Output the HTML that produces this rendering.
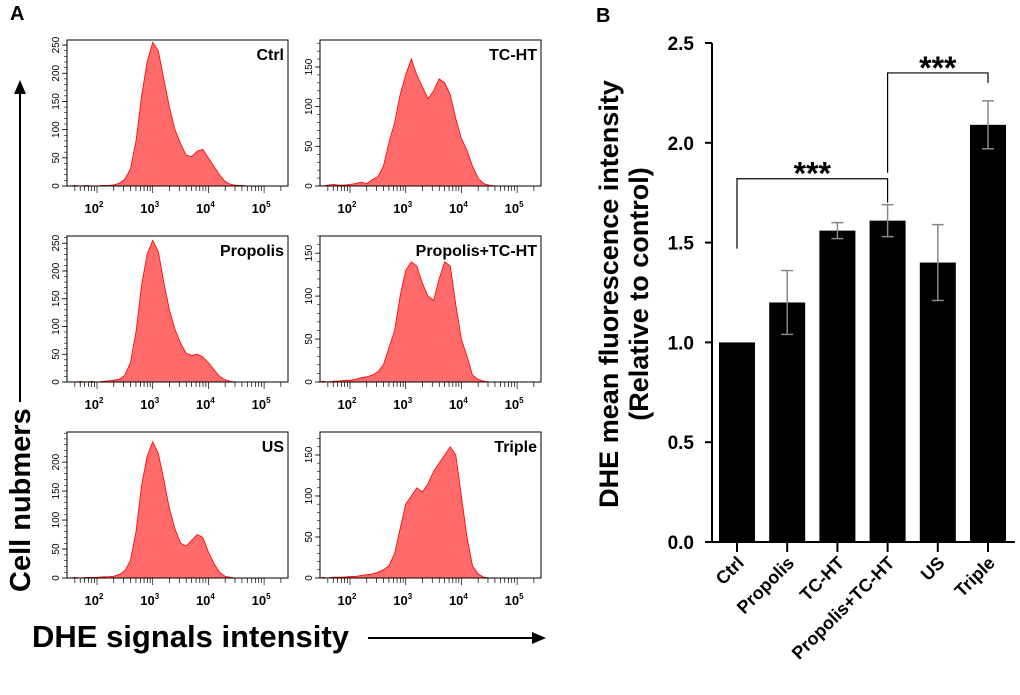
<!DOCTYPE html>
<html><head><meta charset="utf-8"><style>
body{margin:0;background:#fff;}
svg{display:block;font-family:"Liberation Sans",Arial,sans-serif;}
</style></head><body>
<svg id="fig" width="1020" height="695" viewBox="0 0 1020 695" xmlns="http://www.w3.org/2000/svg">
<text x="10" y="20" font-size="20" font-weight="bold">A</text>
<text x="596" y="22" font-size="20" font-weight="bold">B</text>
<g>
<line x1="20" y1="402" x2="20" y2="92" stroke="#000" stroke-width="2"/>
<polygon points="14,94 26,94 20,80" fill="#000"/>
</g>
<text transform="translate(30,592) rotate(-90)" font-size="29" font-weight="bold">Cell nubmers</text>
<text x="32" y="647" font-size="31" font-weight="bold">DHE signals intensity</text>
<g>
<line x1="368" y1="638" x2="534" y2="638" stroke="#000" stroke-width="2"/>
<polygon points="532,632 532,644 546,638" fill="#000"/>
</g>
<g id="hists"></g>
<g id="bars"></g>
</svg>
<script>
// Histogram data: counts at log10 bins from 1.5 to 5.4 step 0.1
const binStart = 1.5, binStep = 0.1;
const histNames = ["Ctrl","TC-HT","Propolis","Propolis+TC-HT","US","Triple"];
const histMax = [259,184,263,170,252,178];
const histTicks = [[0,50,100,150,200,250],[0,50,100,150],[0,50,100,150,200,250],[0,50,100,150],[0,50,100,150,200],[0,50,100,150]];
const ctrlCounts = [0,1,0,1,0,0,1,1,2,5,12,30,80,160,220,255,240,190,140,100,75,55,52,62,65,50,35,20,8,3,1,1,0,0,0,0,0,0,0,0];
const tchtCounts = [0,1,2,1,1,2,3,5,3,8,12,25,55,80,115,140,160,140,125,110,120,135,130,115,85,60,45,25,10,3,1,0,0,0,0,0,0,0,0,0];
const propolisCounts = [0,0,1,0,1,0,1,2,3,5,12,35,90,175,230,255,235,180,130,95,70,52,48,50,45,35,22,10,4,1,0,0,0,0,0,0,0,0,0,0];
const ptCounts = [1,0,1,1,2,2,3,5,6,8,12,20,40,60,100,130,140,135,115,100,95,120,140,135,90,50,30,8,3,1,0,0,0,0,0,0,0,0,0,0];
const usCounts = [0,1,0,1,1,1,2,2,3,6,12,30,80,160,210,235,215,170,120,85,60,55,65,75,70,45,25,10,3,1,0,0,0,0,0,0,0,0,0,0];
const tripleCounts = [1,0,1,1,1,2,2,3,4,5,7,10,15,30,60,90,100,110,105,115,130,140,150,160,150,100,50,15,5,1,0,0,0,0,0,0,0,0,0,0];
const histSeries = [ctrlCounts,tchtCounts,propolisCounts,ptCounts,usCounts,tripleCounts];

// Bar chart data
const categories = ["Ctrl","Propolis","TC-HT","Propolis+TC-HT","US","Triple"];
const means = [1.0,1.2,1.56,1.61,1.40,2.09];
const errors = [0,0.16,0.04,0.08,0.19,0.12];
const yTickLabels = ["0.0","0.5","1.0","1.5","2.0","2.5"];
const yTickValues = [0,0.5,1.0,1.5,2.0,2.5];

const NS="http://www.w3.org/2000/svg";
function mk(tag,attrs,parent){const e=document.createElementNS(NS,tag);for(const k in attrs)e.setAttribute(k,attrs[k]);parent.appendChild(e);return e;}

const hg=document.getElementById('hists');
const colX=[67,320], rowTop=[40,236,432], H=146, W=221;
histNames.forEach((name,i)=>{
  const left=colX[i%2], top=rowTop[Math.floor(i/2)], base=top+H;
  const g=mk('g',{},hg);
  
  
  const xs=v=>left+30+(v-2)*55.7;
  const ys=c=>base-c/histMax[i]*H;
  const data=histSeries[i];
  let d='M'+xs(binStart)+','+base;
  data.forEach((c,j)=>{d+=' L'+xs(binStart+j*binStep).toFixed(1)+','+ys(c).toFixed(1);});
  d+=' L'+xs(binStart+(data.length-1)*binStep)+','+base+' Z';
  const p=mk('path',{d:d,fill:'#ff6a6a',stroke:'#f00','stroke-width':0.8},g);
  
  
  const fr=mk('rect',{x:left,y:top,width:W,height:H,fill:'none',stroke:'#000','stroke-width':1},g);
  
  
  for(let c=0;c<=histMax[i];c+=10){mk('line',{x1:left-3,x2:left,y1:ys(c),y2:ys(c),stroke:'#000','stroke-width':0.6},g);}
  histTicks[i].forEach(c=>{
    mk('line',{x1:left-5,x2:left,y1:ys(c),y2:ys(c),stroke:'#000','stroke-width':0.8},g);
    const t=mk('text',{transform:`translate(${left-8},${ys(c)}) rotate(-90)`,'font-size':10,'text-anchor':'middle'},g);
    t.textContent=c;
    
    
  });
  for(let dec=1;dec<=5;dec++){for(let m=1;m<10;m++){const v=dec+Math.log10(m);const x=xs(v);if(x<left+2||x>left+W-2)continue;
    mk('line',{x1:x,x2:x,y1:base,y2:base+(m===1?7:5),stroke:'#000','stroke-width':0.7},g);}}
  [2,3,4,5].forEach(e=>{
    const t=mk('text',{x:xs(e)-3,y:base+27,'font-size':13,'font-weight':'bold','text-anchor':'middle'},g);
    t.innerHTML='10<tspan font-size="8" dy="-6">'+e+'</tspan>';
    
    
  });
  const lab=mk('text',{x:left+W-4,y:top+20,'font-size':16,'font-weight':'bold','text-anchor':'end'},g);
  lab.textContent=name;
  
  
});

// Bar chart
const bg=document.getElementById('bars');
const y0=542, ppu=199.6, axX=712;
const yb=v=>y0-v*ppu;
const xb=i=>737+i*50.2;
const yl=mk('line',{x1:axX,x2:axX,y1:yb(2.5),y2:y0,stroke:'#000','stroke-width':2},bg);


const xl=mk('line',{x1:707,x2:1015,y1:y0,y2:y0,stroke:'#000','stroke-width':2},bg);


yTickValues.forEach((v,i)=>{
  mk('line',{x1:axX-7,x2:axX,y1:yb(v),y2:yb(v),stroke:'#000','stroke-width':2},bg);
  const t=mk('text',{x:axX-18,y:yb(v)+7,'font-size':19,'font-weight':'bold','text-anchor':'end'},bg);
  t.textContent=yTickLabels[i];
  
  
});
const t1=mk('text',{transform:'translate(618,294) rotate(-90)','font-size':27,'font-weight':'bold','text-anchor':'middle'},bg);
t1.textContent='DHE mean fluorescence intensity';


const t2=mk('text',{transform:'translate(648,294) rotate(-90)','font-size':27,'font-weight':'bold','text-anchor':'middle'},bg);
t2.textContent='(Relative to control)';


categories.forEach((c,i)=>{
  const x=xb(i);
  const r=mk('rect',{x:x-18,y:yb(means[i]),width:36,height:y0-yb(means[i]),fill:'#000'},bg);
  
  
  if(errors[i]>0){
    const eg=mk('g',{stroke:'#888','stroke-width':1.5},bg);
    
    
    mk('line',{x1:x,x2:x,y1:yb(means[i]+errors[i]),y2:yb(means[i]-errors[i])},eg);
    mk('line',{x1:x-6,x2:x+6,y1:yb(means[i]+errors[i]),y2:yb(means[i]+errors[i])},eg);
    mk('line',{x1:x-6,x2:x+6,y1:yb(means[i]-errors[i]),y2:yb(means[i]-errors[i])},eg);
  }
  mk('line',{x1:x,x2:x,y1:y0,y2:y0+10,stroke:'#000','stroke-width':2},bg);
  const t=mk('text',{transform:`translate(${x+8},${y0+22}) rotate(-45)`,'font-size':18,'font-weight':'bold','text-anchor':'end'},bg);
  t.textContent=c;
  
  
});
const s1=mk('path',{d:`M${xb(0)},${yb(1.47)} V${yb(1.82)} H${xb(3)} V${yb(1.7)}`,fill:'none',stroke:'#000','stroke-width':1.2},bg);


const st1=mk('text',{x:(xb(0)+xb(3))/2,y:yb(1.82)+6,'font-size':32,'font-weight':'bold','text-anchor':'middle'},bg);
st1.textContent='***';


const s2=mk('path',{d:`M${xb(3)},${yb(1.85)} V${yb(2.35)} H${xb(5)} V${yb(2.3)}`,fill:'none',stroke:'#000','stroke-width':1.2},bg);


const st2=mk('text',{x:(xb(3)+xb(5))/2,y:yb(2.35)+6,'font-size':32,'font-weight':'bold','text-anchor':'middle'},bg);
st2.textContent='***';


</script>
</body></html>
